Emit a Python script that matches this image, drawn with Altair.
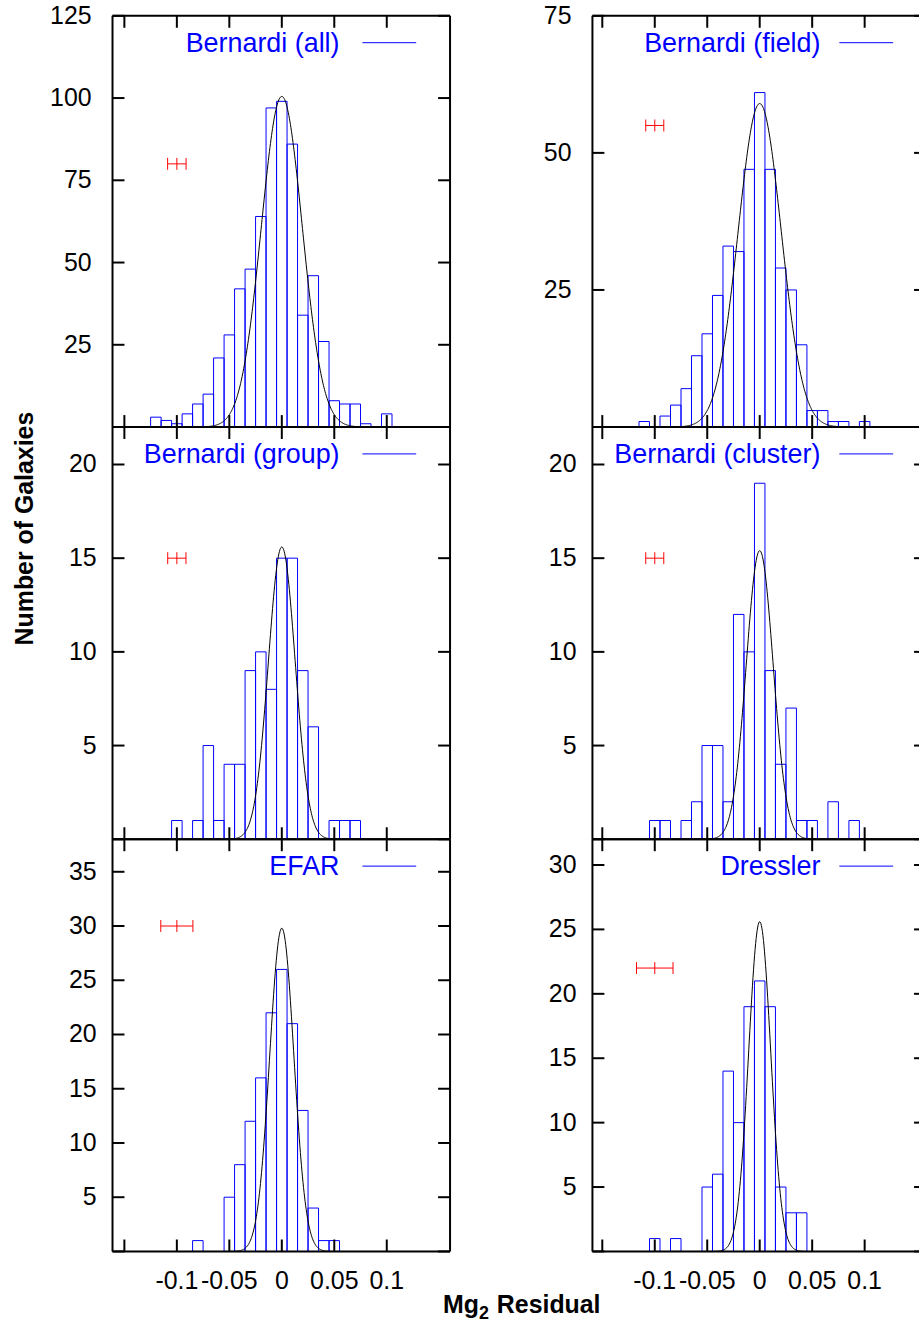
import altair as alt
import pandas as pd

FONT = "Liberation Sans"
BLUE = "#0000ff"
RED = "#ff0000"
BIN_WIDTH = 0.01

# ---- histogram data (bin centres and counts) ----
ALL_BINS = [-0.12, -0.11, -0.10, -0.09, -0.08, -0.07, -0.06, -0.05, -0.04, -0.03, -0.02, -0.01,
            0.00, 0.01, 0.02, 0.03, 0.04, 0.05, 0.06, 0.07, 0.08, 0.09, 0.10]
ALL_COUNTS = [3, 2, 1, 4, 7, 10, 21, 28, 42, 48, 64, 97, 99, 86, 34, 46, 26, 8, 7, 7, 1, 0, 4]

FIELD_BINS = [-0.11, -0.10, -0.09, -0.08, -0.07, -0.06, -0.05, -0.04, -0.03, -0.02, -0.01,
              0.00, 0.01, 0.02, 0.03, 0.04, 0.05, 0.06, 0.07, 0.08, 0.09, 0.10]
FIELD_COUNTS = [1, 0, 2, 4, 7, 13, 17, 24, 33, 32, 47, 61, 47, 29, 25, 15, 3, 3, 1, 1, 0, 1]

GROUP_BINS = [-0.10, -0.09, -0.08, -0.07, -0.06, -0.05, -0.04, -0.03, -0.02, -0.01,
              0.00, 0.01, 0.02, 0.03, 0.04, 0.05, 0.06, 0.07]
GROUP_COUNTS = [1, 0, 1, 5, 1, 4, 4, 9, 10, 8, 15, 15, 9, 6, 0, 1, 1, 1]

CLUSTER_BINS = [-0.10, -0.09, -0.08, -0.07, -0.06, -0.05, -0.04, -0.03, -0.02, -0.01,
                0.00, 0.01, 0.02, 0.03, 0.04, 0.05, 0.06, 0.07, 0.08, 0.09]
CLUSTER_COUNTS = [1, 1, 0, 1, 2, 5, 5, 2, 12, 10, 19, 9, 4, 7, 1, 1, 0, 2, 0, 1]

EFAR_BINS = [-0.08, -0.07, -0.06, -0.05, -0.04, -0.03, -0.02, -0.01, 0.00, 0.01, 0.02, 0.03, 0.04, 0.05]
EFAR_COUNTS = [1, 0, 0, 5, 8, 12, 16, 22, 26, 21, 13, 4, 1, 1]

DRESSLER_BINS = [-0.10, -0.09, -0.08, -0.07, -0.06, -0.05, -0.04, -0.03, -0.02, -0.01,
                 0.00, 0.01, 0.02, 0.03, 0.04]
DRESSLER_COUNTS = [1, 0, 1, 0, 0, 5, 6, 14, 10, 19, 21, 19, 5, 3, 3]

# ---- gaussian fits (amplitude, sigma) ----
GAUSS_AMP = {"all": 100.5, "field": 59.0, "group": 15.6, "cluster": 15.4, "efar": 29.8, "dressler": 25.6}
GAUSS_SIGMA = {"all": 0.0195, "field": 0.0205, "group": 0.0128, "cluster": 0.0128, "efar": 0.0115, "dressler": 0.0105}

# ---- typical error bars (centre x, y, half width) ----
ERR_X = -0.1
ERR_Y = {"all": 80, "field": 55, "group": 15, "cluster": 15, "efar": 30, "dressler": 22}
ERR_HALF = {"all": 0.0088, "field": 0.0086, "group": 0.0087, "cluster": 0.0086, "efar": 0.0153, "dressler": 0.0174}

# ---- axes ----
Y_MAX = {"all": 125, "field": 75, "group": 22, "cluster": 22, "efar": 38, "dressler": 32}
Y_LABELS = {
    "all": [25, 50, 75, 100, 125],
    "field": [25, 50, 75],
    "group": [5, 10, 15, 20],
    "cluster": [5, 10, 15, 20],
    "efar": [5, 10, 15, 20, 25, 30, 35],
    "dressler": [5, 10, 15, 20, 25, 30],
}
X_TICKS = [-0.15, -0.1, -0.05, 0, 0.05, 0.1]
X_LABELS = [-0.1, -0.05, 0, 0.05, 0.1]
X_LABEL_TEXT = ["-0.1", "-0.05", "0", "0.05", "0.1"]

TITLES = {"all": "Bernardi (all)", "field": "Bernardi (field)", "group": "Bernardi (group)",
          "cluster": "Bernardi (cluster)", "efar": "EFAR", "dressler": "Dressler"}

DATA = {"all": (ALL_BINS, ALL_COUNTS), "field": (FIELD_BINS, FIELD_COUNTS),
        "group": (GROUP_BINS, GROUP_COUNTS), "cluster": (CLUSTER_BINS, CLUSTER_COUNTS),
        "efar": (EFAR_BINS, EFAR_COUNTS), "dressler": (DRESSLER_BINS, DRESSLER_COUNTS)}

LEFT_DOMAIN = [-0.1613, 0.1603]
RIGHT_DOMAIN = [-0.1594, 0.1518]
LEFT_W = 339
RIGHT_W = 328
RIGHT_FULL_W = 335
ROW_H = [413, 414, 414]
TICK_LEN = 12
LABEL_SIZE = 25

ONE = alt.Data(values=[{"k": 0}])


def panel(key, col, row):
    bins, counts = DATA[key]
    xdomain = LEFT_DOMAIN if col == 0 else RIGHT_DOMAIN
    width = LEFT_W if col == 0 else RIGHT_W
    full_w = LEFT_W if col == 0 else RIGHT_FULL_W
    height = ROW_H[row]
    xs = alt.Scale(domain=xdomain, nice=False, zero=False)
    ys = alt.Scale(domain=[0, Y_MAX[key]], nice=False, zero=False)

    hist = pd.DataFrame({"center": bins, "count": counts})
    hist = hist[hist["count"] > 0].copy()
    hist["lo"] = hist["center"] - BIN_WIDTH / 2
    hist["hi"] = hist["center"] + BIN_WIDTH / 2
    hist["base"] = 0

    bars = alt.Chart(hist).mark_rect(fillOpacity=0, stroke=BLUE, strokeWidth=1).encode(
        x=alt.X("lo:Q", scale=xs, axis=None),
        x2="hi:Q",
        y=alt.Y("count:Q", scale=ys, axis=None),
        y2="base:Q",
    )

    amp = GAUSS_AMP[key]
    sig = GAUSS_SIGMA[key]
    curve = alt.Chart(alt.sequence(xdomain[0], xdomain[1], 0.0005, as_="x")).transform_calculate(
        g=f"{amp} * exp(-datum.x * datum.x / (2 * {sig} * {sig}))"
    ).mark_line(color="black", strokeWidth=1).encode(
        x=alt.X("x:Q", scale=xs, axis=None),
        y=alt.Y("g:Q", scale=ys, axis=None),
    )

    err = pd.DataFrame({"x": [ERR_X], "y": [ERR_Y[key]],
                        "lo": [ERR_X - ERR_HALF[key]], "hi": [ERR_X + ERR_HALF[key]]})
    err_line = alt.Chart(err).mark_rule(color=RED, strokeWidth=1).encode(
        x=alt.X("lo:Q", scale=xs, axis=None), x2="hi:Q",
        y=alt.Y("y:Q", scale=ys, axis=None),
    )
    err_caps = alt.Chart(err).transform_fold(["lo", "x", "hi"], as_=["k", "xv"]).mark_rule(
        color=RED, strokeWidth=1, yOffset=-6, y2Offset=6
    ).encode(
        x=alt.X("xv:Q", scale=xs, axis=None),
        y=alt.Y("y:Q", scale=ys, axis=None),
        y2="y:Q",
    )

    text_x = 228 if col == 0 else 229
    line_x = (251, 305) if col == 0 else (248, 302)
    leg_text = alt.Chart(ONE).mark_text(
        text=TITLES[key], align="right", baseline="alphabetic", font=FONT, fontSize=27, color=BLUE
    ).encode(x=alt.value(text_x), y=alt.value(36))
    leg_line = alt.Chart(ONE).mark_rule(color=BLUE, strokeWidth=1).encode(
        x=alt.value(line_x[0]), x2=alt.value(line_x[1]), y=alt.value(27))

    # tick labels
    lab_pad = 21 if row == 0 else 16
    ylab_df = pd.DataFrame({"v": Y_LABELS[key], "t": [str(v) for v in Y_LABELS[key]]})
    ylabels = alt.Chart(ylab_df).mark_text(
        align="right", baseline="middle", font=FONT, fontSize=LABEL_SIZE, color="black"
    ).encode(y=alt.Y("v:Q", scale=ys, axis=None), x=alt.value(-lab_pad), text="t:N")

    ytick_df = pd.DataFrame({"v": [0] + Y_LABELS[key]})
    xtick_df = pd.DataFrame({"v": X_TICKS})
    yt_left = alt.Chart(ytick_df).mark_rule(color="black", strokeWidth=2).encode(
        y=alt.Y("v:Q", scale=ys, axis=None), x=alt.value(0), x2=alt.value(TICK_LEN))
    yt_right = alt.Chart(ytick_df).mark_rule(color="black", strokeWidth=2).encode(
        y=alt.Y("v:Q", scale=ys, axis=None), x=alt.value(full_w - TICK_LEN), x2=alt.value(width))
    xt_bot = alt.Chart(xtick_df).mark_rule(color="black", strokeWidth=2).encode(
        x=alt.X("v:Q", scale=xs, axis=None), y=alt.value(height), y2=alt.value(height - TICK_LEN))
    xt_top = alt.Chart(xtick_df).mark_rule(color="black", strokeWidth=2).encode(
        x=alt.X("v:Q", scale=xs, axis=None), y=alt.value(0), y2=alt.value(TICK_LEN))

    frame = [
        alt.Chart(ONE).mark_rule(color="black", strokeWidth=2).encode(
            x=alt.value(0), y=alt.value(0), y2=alt.value(height)),
        alt.Chart(ONE).mark_rule(color="black", strokeWidth=2).encode(
            x=alt.value(0), x2=alt.value(width), y=alt.value(0)),
        alt.Chart(ONE).mark_rule(color="black", strokeWidth=2).encode(
            x=alt.value(0), x2=alt.value(width), y=alt.value(height)),
    ]
    if col == 0:
        frame.append(alt.Chart(ONE).mark_rule(color="black", strokeWidth=2).encode(
            x=alt.value(width), y=alt.value(0), y2=alt.value(height)))

    layers = [bars, curve, err_line, err_caps, leg_text, leg_line, ylabels,
              yt_left, yt_right, xt_bot, xt_top] + frame

    if row == 2:
        xlab_df = pd.DataFrame({"v": X_LABELS, "t": X_LABEL_TEXT})
        layers.append(alt.Chart(xlab_df).mark_text(
            align="center", baseline="alphabetic", font=FONT, fontSize=LABEL_SIZE, color="black"
        ).encode(x=alt.X("v:Q", scale=xs, axis=None), y=alt.value(height + 38), text="t:N"))

    if col == 0 and row == 1:
        layers.append(alt.Chart(ONE).mark_text(
            text="Number of Galaxies", angle=270, align="center", baseline="alphabetic",
            font=FONT, fontSize=25, fontWeight="bold", color="black"
        ).encode(x=alt.value(-80), y=alt.value(102)))
    if col == 0 and row == 2:
        # x-axis title "Mg2 Residual" with a true subscript 2
        layers.append(alt.Chart(ONE).mark_text(
            text="Mg", align="left", baseline="alphabetic",
            font=FONT, fontSize=25, fontWeight="bold", color="black"
        ).encode(x=alt.value(332), y=alt.value(476)))
        layers.append(alt.Chart(ONE).mark_text(
            text="2", align="left", baseline="alphabetic",
            font=FONT, fontSize=18, fontWeight="bold", color="black"
        ).encode(x=alt.value(368), y=alt.value(482)))
        layers.append(alt.Chart(ONE).mark_text(
            text="Residual", align="left", baseline="alphabetic",
            font=FONT, fontSize=25, fontWeight="bold", color="black"
        ).encode(x=alt.value(386), y=alt.value(476)))

    return alt.layer(*layers).properties(width=width, height=height)


panels = [panel("all", 0, 0), panel("field", 1, 0),
          panel("group", 0, 1), panel("cluster", 1, 1),
          panel("efar", 0, 2), panel("dressler", 1, 2)]

chart = alt.concat(*panels, columns=2, spacing=alt.RowColnumber(row=0, column=143),
                   bounds="flush").properties(
    padding={"left": 12, "top": 0, "right": 0, "bottom": 0},
    background="white",
).configure_view(stroke="transparent")

chart.save("out.html", embed_options={"renderer": "svg", "actions": False})
